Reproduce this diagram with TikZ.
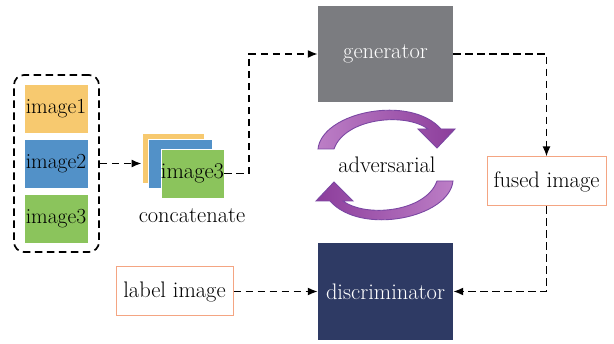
\documentclass[tikz,border=0pt]{standalone}
\usetikzlibrary{arrows.meta}
\definecolor{imgyellow}{HTML}{F7C96F}
\definecolor{imgblue}{HTML}{5291C8}
\definecolor{imggreen}{HTML}{8BC45C}
\definecolor{gengray}{HTML}{7B7C80}
\definecolor{discblue}{HTML}{2E3A64}
\definecolor{boxorange}{HTML}{F4A582}
\definecolor{advlight}{HTML}{BC7EC6}
\definecolor{advdark}{HTML}{8C3D9B}
\definecolor{advedge}{HTML}{7B47A3}
\tikzset{
  imgbox/.style={minimum width=64pt, minimum height=49pt, inner sep=0pt, draw=white, line width=0.8pt},
  blockbox/.style={minimum width=135pt, minimum height=96pt, inner sep=0pt, text=white},
  plainbox/.style={draw=boxorange, line width=1pt, fill=white, minimum height=49pt, inner sep=0pt},
  flow/.style={draw=black, line width=1.7pt, dash pattern=on 7.5pt off 4.5pt, -{Latex[length=10pt,width=8pt]}},
  advarrow/.style={draw=advedge, line width=0.9pt}
}
\begin{document}
\begin{tikzpicture}[x=1pt, y=-1pt, font=\fontsize{22.5}{26}\selectfont]
\useasboundingbox (0,0) rectangle (614,344);

% input images in a dashed group
\node[draw, line width=1.7pt, dash pattern=on 7.5pt off 4.5pt, rounded corners=10pt, minimum width=85pt, minimum height=177pt] (group) at (56.5,163.5) {};
\begin{scope}[font=\fontsize{21.5}{25}\selectfont]
\node[imgbox, fill=imgyellow] (im1) at (56,108.5) {image1};
\node[imgbox, fill=imgblue] (im2) at (56,164) {image2};
\node[imgbox, fill=imggreen] (im3) at (56,218.5) {image3};
\end{scope}

% concatenated stack
\node[imgbox, fill=imgyellow, minimum width=62pt, minimum height=50pt] (stky) at (173,158) {};
\node[imgbox, fill=imgblue] (stkb) at (180,163.5) {};
\node[imgbox, fill=imggreen, minimum width=63pt] (stkg) at (192.5,173.5) {image3};
\node (concat) at (192,216) {concatenate};

% network blocks
\node[blockbox, fill=gengray] (gen) at (385.5,54) {generator};
\node[blockbox, fill=discblue, minimum height=97pt] (disc) at (385.5,291.5) {discriminator};
\node[plainbox, minimum width=119pt] (fused) at (546.5,181.5) {fused image};
\node[plainbox, minimum width=117pt] (label) at (174.5,291.5) {label image};
\node (adv) at (387,165) {adversarial};

% adversarial loop arrows
\path[advarrow, left color=advlight, right color=advdark]
  (318,149) .. controls (322,112) and (410,94) .. (441,129)
  -- (455,129) -- (437,148) -- (418,129) -- (428,129)
  .. controls (405,112) and (345,118) .. (334,149) -- cycle;
\path[advarrow, left color=advdark, right color=advlight]
  (453,181) .. controls (449,218) and (361,236) .. (330,201)
  -- (316,201) -- (334,182) -- (353,201) -- (343,201)
  .. controls (366,218) and (426,212) .. (437,181) -- cycle;

% data flow
\coordinate (bend1) at (249,173.5);
\draw[flow] (group.east) -- (group.east -| stky.west);
\draw[flow] (stkg.east) -- (bend1) |- (gen.west);
\draw[flow] (gen.east) -| (fused.north);
\draw[flow] (fused.south) |- (disc.east);
\draw[flow] (label.east) -- (disc.west);
\end{tikzpicture}
\end{document}
